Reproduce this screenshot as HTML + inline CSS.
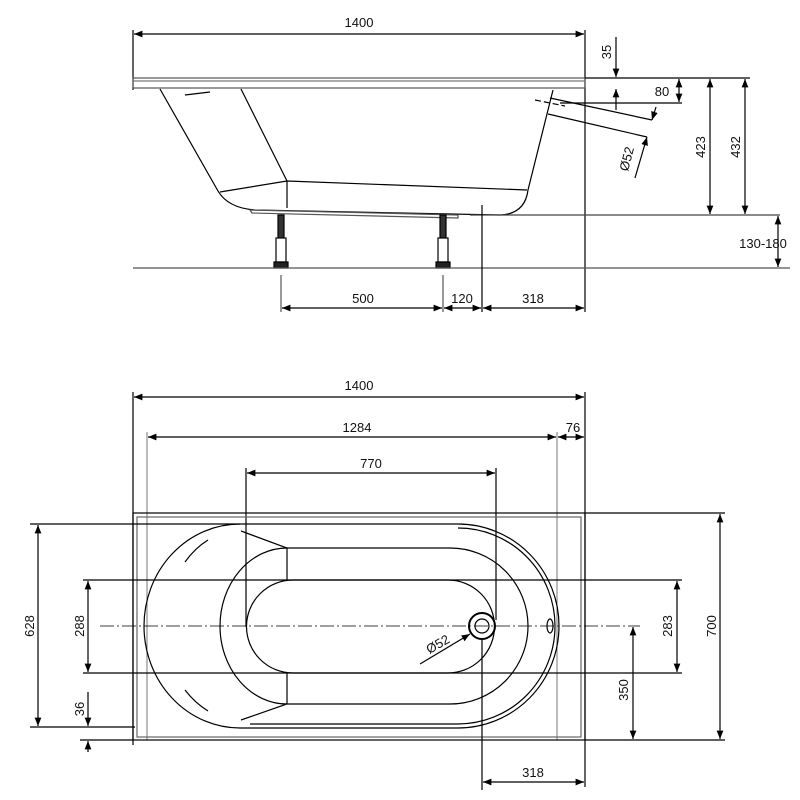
<!DOCTYPE html>
<html><head><style>html,body{margin:0;padding:0;background:#fff}svg{display:block}</style></head>
<body>
<svg width="800" height="800" viewBox="0 0 800 800" xmlns="http://www.w3.org/2000/svg">
<defs>
<marker id="a" viewBox="0 0 10 10" refX="10" refY="5" markerWidth="7" markerHeight="7" orient="auto-start-reverse"><path d="M0,1 L10,5 L0,9 z" fill="#000"/></marker>
</defs>
<g fill="none" stroke="#000" stroke-width="1.2">
<line x1="133" y1="30" x2="133" y2="90"/>
<line x1="585" y1="30" x2="585" y2="312"/>
<line x1="134" y1="34" x2="584" y2="34" marker-start="url(#a)" marker-end="url(#a)"/>
<rect x="133" y="78" width="452" height="10" stroke="#555"/>
<line x1="133" y1="81" x2="585" y2="81" stroke="#777"/>
<path d="M160 89 L218 191 Q228 208 255 210 L500 215 Q525 214 528 190 L553 90"/>
<path d="M241 89 L287 181 L287 208"/>
<path d="M220 192 L287 181 L527 190"/>
<path d="M185 95 L210 92"/>
<path d="M250 210 L458 215 L458 218 L252 213 Z" stroke="#555"/>
<line x1="470" y1="215" x2="780" y2="215" stroke="#444"/>
<g fill="#fff">
<rect x="278" y="215" width="6" height="25" fill="#333"/>
<rect x="276" y="238" width="10" height="24"/>
<rect x="274" y="262" width="14" height="6" fill="#222"/>
<rect x="440" y="215" width="6" height="25" fill="#333"/>
<rect x="438" y="238" width="10" height="24"/>
<rect x="436" y="262" width="14" height="6" fill="#222"/>
</g>
<line x1="133" y1="268" x2="790" y2="268" stroke="#555"/>
<line x1="281" y1="275" x2="281" y2="312" stroke-width="0.8"/>
<line x1="443" y1="275" x2="443" y2="312" stroke-width="0.8"/>
<line x1="482" y1="205" x2="482" y2="312"/>
<line x1="282" y1="308" x2="442" y2="308" marker-start="url(#a)" marker-end="url(#a)"/>
<line x1="444" y1="308" x2="481" y2="308" marker-start="url(#a)" marker-end="url(#a)"/>
<line x1="483" y1="308" x2="584" y2="308" marker-start="url(#a)" marker-end="url(#a)"/>
<line x1="550" y1="98" x2="652" y2="120"/>
<line x1="548" y1="114" x2="647" y2="137"/>
<line x1="535" y1="100" x2="565" y2="106" stroke-dasharray="6 3"/>
<line x1="652" y1="120" x2="656" y2="107" marker-start="url(#a)"/>
<line x1="647" y1="137" x2="635" y2="178" marker-start="url(#a)"/>
<line x1="585" y1="78" x2="750" y2="78"/>
<line x1="560" y1="103" x2="682" y2="103"/>
<line x1="616" y1="37" x2="616" y2="77" marker-end="url(#a)"/>
<line x1="616" y1="110" x2="616" y2="89" marker-end="url(#a)"/>
<line x1="679" y1="79" x2="679" y2="102" marker-start="url(#a)" marker-end="url(#a)"/>
<line x1="710" y1="79" x2="710" y2="214" marker-start="url(#a)" marker-end="url(#a)"/>
<line x1="745" y1="79" x2="745" y2="214" marker-start="url(#a)" marker-end="url(#a)"/>
<line x1="778" y1="216" x2="778" y2="267" marker-start="url(#a)" marker-end="url(#a)"/>

<line x1="133" y1="392" x2="133" y2="745"/>
<line x1="585" y1="392" x2="585" y2="787"/>
<line x1="134" y1="397" x2="584" y2="397" marker-start="url(#a)" marker-end="url(#a)"/>
<line x1="147" y1="432" x2="147" y2="740" stroke-width="0.8" stroke="#555"/>
<line x1="557" y1="432" x2="557" y2="740" stroke-width="0.8" stroke="#555"/>
<line x1="148" y1="437" x2="556" y2="437" marker-start="url(#a)" marker-end="url(#a)"/>
<line x1="558" y1="437" x2="584" y2="437" marker-start="url(#a)" marker-end="url(#a)"/>
<line x1="246" y1="468" x2="246" y2="627"/>
<line x1="496" y1="468" x2="496" y2="620"/>
<line x1="247" y1="473" x2="495" y2="473" marker-start="url(#a)" marker-end="url(#a)"/>
<rect x="133" y="513" width="452" height="227"/>
<rect x="137" y="517" width="444" height="220" stroke="#666"/>
<path d="M240 524 H458 A101 102 0 0 1 458 728 H240 A96 102 0 0 1 240 524"/>
<path d="M458 528 A97 98 0 0 1 458 724 H250"/>
<path d="M241 531 L287 548 L287 580 M241 720 L287 704 L287 673 M287 548 H450 A78 78 0 0 1 450 704 H287 A67 78 0 0 1 287 548"/>
<path d="M293 580 H448 A46.5 46.5 0 0 1 448 673 H293 A46.5 46.5 0 0 1 293 580"/>
<path d="M185 562 Q195 548 208 540 M185 690 Q195 703 208 711"/>
<circle cx="482" cy="626" r="13" stroke-width="2"/>
<circle cx="482" cy="626" r="7"/>
<ellipse cx="550" cy="626" rx="3" ry="7"/>
<line x1="100" y1="626" x2="640" y2="626" stroke-dasharray="14 3 2 3" stroke-width="0.8"/>
<line x1="420" y1="664" x2="470" y2="634" marker-end="url(#a)"/>
<line x1="30" y1="524" x2="240" y2="524"/>
<line x1="30" y1="727" x2="135" y2="727"/>
<line x1="38" y1="525" x2="38" y2="726" marker-start="url(#a)" marker-end="url(#a)"/>
<line x1="83" y1="580" x2="682" y2="580"/>
<line x1="83" y1="673" x2="682" y2="673"/>
<line x1="88" y1="581" x2="88" y2="672" marker-start="url(#a)" marker-end="url(#a)"/>
<line x1="677" y1="581" x2="677" y2="672" marker-start="url(#a)" marker-end="url(#a)"/>
<line x1="88" y1="692" x2="88" y2="726" marker-end="url(#a)"/>
<line x1="80" y1="740" x2="133" y2="740"/>
<line x1="88" y1="752" x2="88" y2="741" marker-end="url(#a)"/>
<line x1="585" y1="513" x2="725" y2="513"/>
<line x1="585" y1="740" x2="725" y2="740"/>
<line x1="720" y1="514" x2="720" y2="739" marker-start="url(#a)" marker-end="url(#a)"/>
<line x1="633" y1="627" x2="633" y2="739" marker-start="url(#a)" marker-end="url(#a)"/>
<line x1="482" y1="640" x2="482" y2="790"/>
<line x1="483" y1="782" x2="584" y2="782" marker-start="url(#a)" marker-end="url(#a)"/>
</g>
<g font-family="Liberation Sans, sans-serif" font-size="13" fill="#111" text-anchor="middle">
<text x="359" y="27">1400</text>
<text x="363" y="303">500</text>
<text x="462" y="303">120</text>
<text x="533" y="303">318</text>
<text x="662" y="96">80</text>
<text x="763" y="248">130-180</text>
<text transform="translate(611,52) rotate(-90)">35</text>
<text transform="translate(705,147) rotate(-90)">423</text>
<text transform="translate(740,147) rotate(-90)">432</text>
<text transform="translate(631,160) rotate(-75)">Ø52</text>
<text x="359" y="390">1400</text>
<text x="357" y="432">1284</text>
<text x="573" y="432">76</text>
<text x="371" y="468">770</text>
<text transform="translate(34,626) rotate(-90)">628</text>
<text transform="translate(84,626) rotate(-90)">288</text>
<text transform="translate(84,709) rotate(-90)">36</text>
<text transform="translate(672,626) rotate(-90)">283</text>
<text transform="translate(628,690) rotate(-90)">350</text>
<text transform="translate(716,626) rotate(-90)">700</text>
<text transform="translate(440,648) rotate(-30)">Ø52</text>
<text x="533" y="777">318</text>
</g>
</svg>
</body></html>
